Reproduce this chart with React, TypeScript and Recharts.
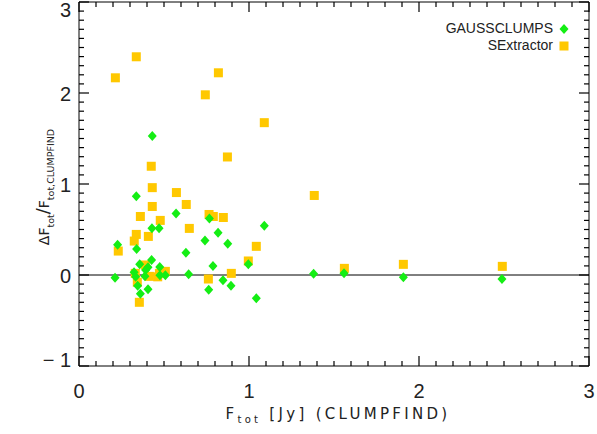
import { ReferenceLine, Scatter, ScatterChart, XAxis, YAxis } from "recharts";

// SExtractor: F_tot (CLUMPFIND) vs relative flux difference
const sexFlux = [
  0.214, 0.337, 0.82, 0.743, 1.09, 0.873, 0.425, 0.431, 0.573, 0.631, 0.431, 0.361, 0.478,
  0.765, 0.79, 0.849, 0.649, 0.337, 0.408, 0.325, 0.231, 1.043, 0.996, 0.39, 0.508, 0.473,
  0.414, 0.331, 0.343, 0.463, 0.761, 0.896, 0.355, 1.384, 1.561, 1.908, 2.49,
];
const sexDelta = [
  2.167, 2.398, 2.222, 1.98, 1.674, 1.297, 1.195, 0.96, 0.906, 0.775, 0.753, 0.643, 0.6,
  0.665, 0.643, 0.632, 0.512, 0.446, 0.424, 0.373, 0.263, 0.315, 0.154, 0.11, 0.04, 0.018,
  -0.015, 0.018, -0.08, -0.02, -0.044, 0.018, -0.3, 0.874, 0.073, 0.117, 0.095,
];

// GAUSSCLUMPS
const gaussFlux = [
  0.431, 0.337, 0.571, 0.767, 1.09, 0.429, 0.471, 0.818, 0.741, 0.875, 0.227, 0.339, 0.629,
  0.788, 0.996, 0.357, 0.427, 0.406, 0.392, 0.475, 0.324, 0.333, 0.388, 0.476, 0.508, 0.645,
  0.212, 0.345, 0.361, 0.406, 0.847, 0.894, 0.763, 1.043, 1.38, 1.559, 1.908, 2.488,
];
const gaussDelta = [
  1.527, 0.866, 0.676, 0.621, 0.541, 0.515, 0.515, 0.464, 0.38, 0.343, 0.332, 0.285, 0.245,
  0.099, 0.117, 0.117, 0.164, 0.084, 0.055, 0.088, 0.029, -0.018, -0.015, -0.004, -0.004, 0.007,
  -0.029, -0.117, -0.205, -0.157, -0.058, -0.117, -0.161, -0.256, 0.014, 0.02, -0.026, -0.044,
];

const xMajor = [0, 1, 2, 3];
const yMajor = [-1, 0, 1, 2, 3];
const xMinor = Array.from({ length: 31 }, (_, i) => i / 10);
const yMinor = Array.from({ length: 41 }, (_, i) => (i - 10) / 10);

const sexPoints = sexFlux.map((x, i) => ({ x, y: sexDelta[i] }));
const gaussPoints = gaussFlux.map((x, i) => ({ x, y: gaussDelta[i] }));

const isMajor = (v: number, majors: number[]) => majors.some((m) => Math.abs(m - v) < 1e-6);

// tick lengths in data units (about 10px major / 5px minor at this size)
const X_LEN = 0.11; // vertical ticks on top/bottom, in y units
const Y_LEN = 0.059; // horizontal ticks on left/right, in x units

const GREEN = "#14ee14";
const YELLOW = "#ffc800";
const FONT = "'Liberation Sans', Arial, sans-serif";
const TITLE_FONT = "'DejaVu Sans', sans-serif";
const INK = "#222";

function BottomLabel({ x, y, payload }: any) {
  return (
    <text x={x} y={y + 32} textAnchor="middle" fontSize={20} fontFamily={FONT} fill={INK}>
      {payload.value}
    </text>
  );
}

function LeftLabel({ x, y, payload }: any) {
  const v = Math.round(payload.value);
  const dy = v > 2.5 ? 15 : v < -0.5 ? 1 : 8;
  return (
    <text x={x - 8} y={y + dy} textAnchor="end" fontSize={20} fontFamily={FONT} fill={INK}>
      {v < 0 ? `\u2212 ${Math.abs(v)}` : v}
    </text>
  );
}

function Diamond(props: any) {
  const { cx, cy } = props;
  return (
    <polygon
      points={`${cx},${cy - 5} ${cx + 4.5},${cy} ${cx},${cy + 5} ${cx - 4.5},${cy}`}
      fill={GREEN}
    />
  );
}

function Square(props: any) {
  const { cx, cy } = props;
  return <rect x={cx - 4.5} y={cy - 4.5} width={9} height={9} fill={YELLOW} />;
}

export default function App() {
  const tickLines: any[] = [];
  xMinor.forEach((v, i) => {
    const len = isMajor(v, xMajor) ? X_LEN : X_LEN / 2;
    tickLines.push(
      <ReferenceLine
        key={`b${i}`}
        segment={[{ x: v, y: -1 }, { x: v, y: -1 + len }]}
        stroke="#000"
        strokeWidth={1.2}
        ifOverflow="visible"
      />,
      <ReferenceLine
        key={`t${i}`}
        segment={[{ x: v, y: 3 }, { x: v, y: 3 - len }]}
        stroke="#000"
        strokeWidth={1.2}
        ifOverflow="visible"
      />
    );
  });
  yMinor.forEach((v, i) => {
    const len = isMajor(v, yMajor) ? Y_LEN : Y_LEN / 2;
    tickLines.push(
      <ReferenceLine
        key={`l${i}`}
        segment={[{ x: 0, y: v }, { x: len, y: v }]}
        stroke="#000"
        strokeWidth={1.2}
        ifOverflow="visible"
      />,
      <ReferenceLine
        key={`r${i}`}
        segment={[{ x: 3, y: v }, { x: 3 - len, y: v }]}
        stroke="#000"
        strokeWidth={1.2}
        ifOverflow="visible"
      />
    );
  });

  return (
    <div style={{ position: "fixed", left: 0, top: 0, width: 597, height: 434, background: "#fff" }}>
      <ScatterChart width={597} height={434} margin={{ top: 2, right: 8, left: 0, bottom: 0 }}>
        <XAxis
          type="number"
          dataKey="x"
          domain={[0, 3]}
          ticks={xMajor}
          interval={0}
          height={68}
          tickSize={0}
          tickMargin={0}
          tickLine={false}
          tick={<BottomLabel />}
          axisLine={{ stroke: "#000" }}
        />
        <YAxis
          type="number"
          dataKey="y"
          domain={[-1, 3]}
          ticks={yMajor}
          interval={0}
          width={79}
          tickSize={0}
          tickMargin={0}
          tickLine={false}
          tick={<LeftLabel />}
          axisLine={{ stroke: "#000" }}
        />
        <ReferenceLine y={3} stroke="#000" strokeWidth={1} />
        <ReferenceLine x={3} stroke="#000" strokeWidth={1} />
        <ReferenceLine y={0} stroke="#000" strokeWidth={1} />
        {tickLines}
        <Scatter name="SExtractor" data={sexPoints} shape={<Square />} isAnimationActive={false} />
        <Scatter name="GAUSSCLUMPS" data={gaussPoints} shape={<Diamond />} isAnimationActive={false} />
      </ScatterChart>
      <svg
        width={597}
        height={434}
        style={{ position: "absolute", left: 0, top: 0, pointerEvents: "none" }}
      >
        <text
          x={338}
          y={419}
          textAnchor="middle"
          fontFamily={TITLE_FONT}
          fontSize={15}
          letterSpacing={3.3}
          fill={INK}
        >
          F
          <tspan fontSize={10} dy={4}>tot</tspan>
          <tspan dy={-4}>{" [Jy] (CLUMPFIND)"}</tspan>
        </text>
        <text
          x={49}
          y={187}
          transform="rotate(-90 49 187)"
          textAnchor="middle"
          fontFamily={TITLE_FONT}
          fontSize={14}
          fill={INK}
        >
          {"\u0394F"}
          <tspan fontSize={9.5} dy={5}>tot</tspan>
          <tspan dy={-5} fontSize={18}>/</tspan>
          <tspan>F</tspan>
          <tspan fontSize={9.5} dy={5}>tot,CLUMPFIND</tspan>
        </text>
      </svg>
      <div
        style={{
          position: "absolute",
          top: 20,
          right: 26,
          fontFamily: FONT,
          fontSize: 14,
          color: INK,
          lineHeight: "17px",
          textAlign: "right",
        }}
      >
        <div style={{ display: "flex", alignItems: "center", justifyContent: "flex-end" }}>
          <span>GAUSSCLUMPS</span>
          <svg width={16} height={12} style={{ marginLeft: 2 }}>
            <polygon points="9,1 13.5,6 9,11 4.5,6" fill={GREEN} />
          </svg>
        </div>
        <div style={{ display: "flex", alignItems: "center", justifyContent: "flex-end" }}>
          <span>SExtractor</span>
          <svg width={16} height={12} style={{ marginLeft: 2 }}>
            <rect x={4.5} y={1.5} width={9} height={9} fill={YELLOW} />
          </svg>
        </div>
      </div>
    </div>
  );
}
